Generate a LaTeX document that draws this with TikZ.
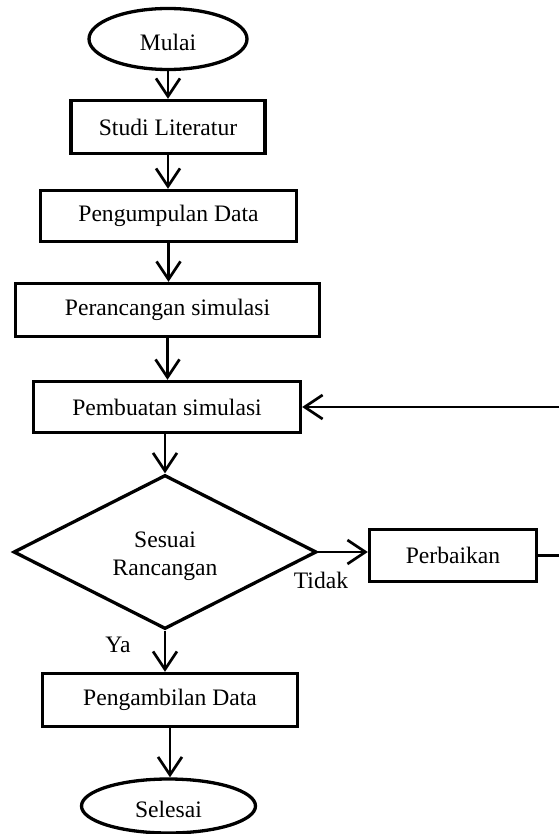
\documentclass[tikz,border=0pt]{standalone}
\usepackage{fontspec}
\setmainfont{Liberation Serif}
\usetikzlibrary{shapes.geometric,arrows.meta}
\begin{document}
\begin{tikzpicture}[x=1pt,y=-1pt,
  font=\fontsize{23.6}{28.5}\selectfont,
  box/.style={draw, line width=3.3pt, rectangle, inner sep=0pt},
  term/.style={draw, line width=3.3pt, ellipse, inner sep=0pt},
  conn/.style={line width=2.7pt},
  arr/.style={conn, -{Straight Barb[length=18pt,width=24pt]}},
  lbl/.style={inner sep=0pt}]
\useasboundingbox (0,0) rectangle (559,834);
\fill[white] (0,0) rectangle (559,834);

\node[term, minimum width=158pt, minimum height=61pt] (mulai) at (168,39) {};
\node[lbl] (mulaitxt) at (168,42) {Mulai};
\node[box, minimum width=194pt, minimum height=53pt] (studi) at (168,127) {Studi Literatur};
\node[box, minimum width=256pt, minimum height=51pt] (kumpul) at (168.5,216) {Pengumpulan Data};
\node[box, minimum width=304pt, minimum height=53pt] (rancang) at (167.5,310) {Perancangan simulasi};
\node[box, minimum width=267pt, minimum height=51pt] (buat) at (167,407) {Pembuatan simulasi};
\node[draw, line width=3.3pt, diamond, inner sep=0pt, aspect=1.97,
      minimum width=303pt, minimum height=154pt] (sesuai) at (165,552) {};
\node[lbl, align=center] (sesuaitxt) at (165,556) {Sesuai\\Rancangan};
\node[box, minimum width=167pt, minimum height=52pt] (perb) at (453,555.5) {Perbaikan};
\node[box, minimum width=255pt, minimum height=53pt] (ambil) at (170,700) {Pengambilan Data};
\node[term, minimum width=174pt, minimum height=54pt] (selesai) at (168.5,806) {};
\node[lbl] (selesaitxt) at (168.5,809) {Selesai};

\node[lbl] (tidak) at (321,580) {Tidak};
\node[lbl] (ya) at (118,645) {Ya};

\coordinate (eR) at (559,555.5);
\coordinate (eL) at (559,407);

\draw[arr] (mulai) -- (mulai |- studi.north);
\draw[arr] (studi) -- (studi |- kumpul.north);
\draw[arr] (kumpul) -- (kumpul |- rancang.north);
\draw[arr] (rancang) -- (rancang |- buat.north);
\draw[arr] (buat.south -| sesuai.north) -- (sesuai.north);
\draw[arr] (sesuai.south) -- (sesuai.south |- ambil.north);
\draw[arr] (ambil) -- (ambil |- selesai.north);
\draw[arr] (sesuai.east) -- (sesuai.east -| perb.west);
\draw[conn] (perb.east) -- (eR);
\draw[arr] (eL) -- (eL -| buat.east);
\end{tikzpicture}
\end{document}
